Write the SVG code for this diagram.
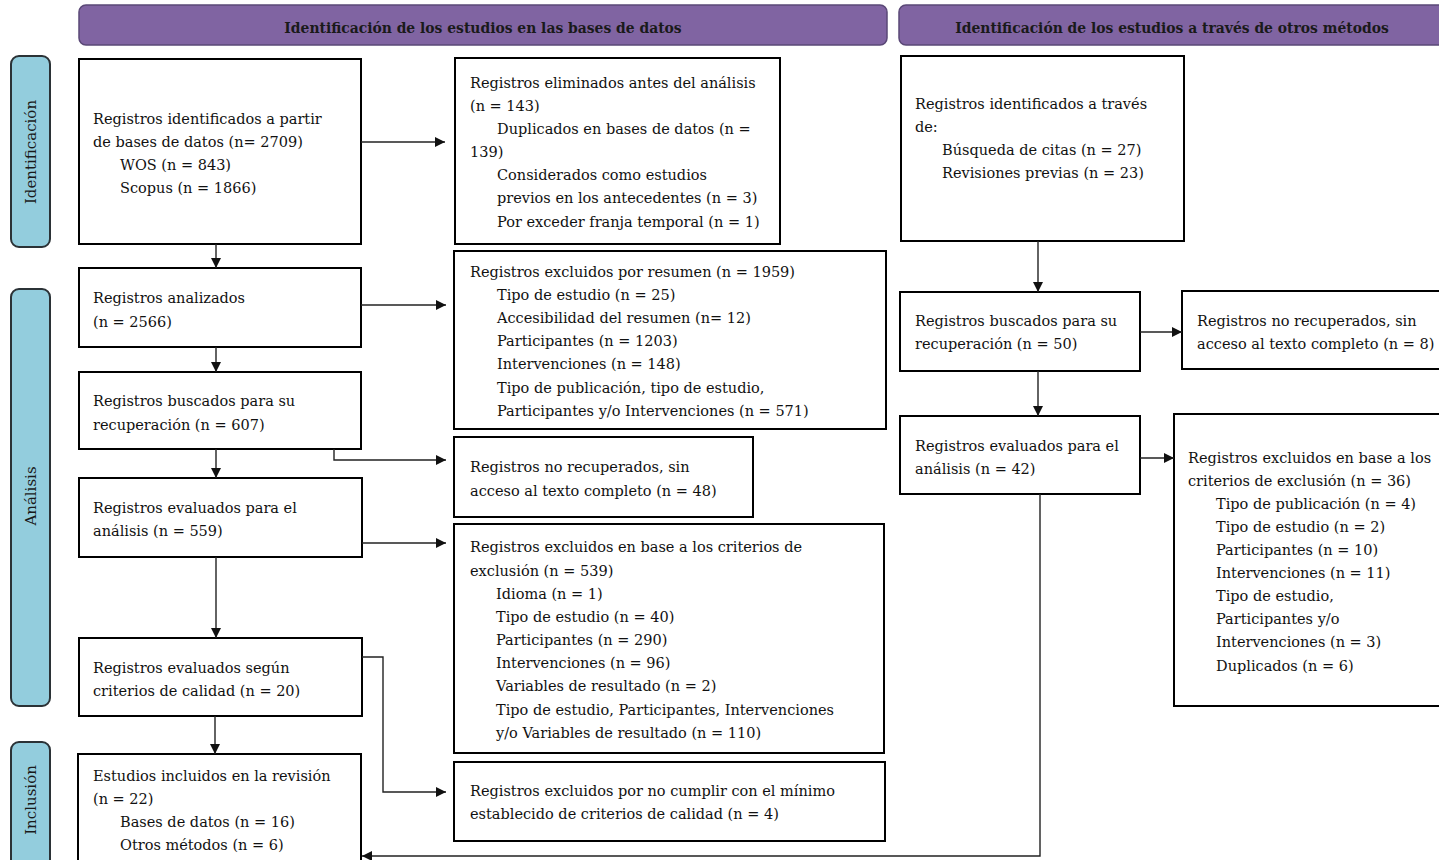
<svg xmlns="http://www.w3.org/2000/svg" width="1439" height="860" viewBox="0 0 1439 860">
<defs>
<marker id="ah" viewBox="0 0 10 10" refX="10" refY="5" markerWidth="11" markerHeight="10" markerUnits="userSpaceOnUse" orient="auto">
<path d="M0,0 L10,5 L0,10 z" fill="#111"/>
</marker>
<style>
.hdr{fill:#8064a2;stroke:#5a4877;stroke-width:1.5}
.side{fill:#93cddd;stroke:#2b3236;stroke-width:2}
.box{fill:#fff;stroke:#000;stroke-width:2}
.t{font-family:"DejaVu Serif","Liberation Serif",serif;font-size:14.5px;fill:#111}
.ht{font-family:"DejaVu Serif","Liberation Serif",serif;font-size:13.9px;font-weight:bold;fill:#1a1a1a;text-anchor:middle}
.st{font-family:"DejaVu Serif","Liberation Serif",serif;font-size:15px;fill:#1a1a1a;text-anchor:middle}
.c{fill:none;stroke:#222;stroke-width:1.4}
</style>
</defs>
<rect width="1439" height="860" fill="#fff"/>

<g id="header-left"><rect class="hdr" x="79" y="5" width="808" height="40" rx="7"/><text class="ht" x="483" y="33">Identificación de los estudios en las bases de datos</text></g>
<g id="header-right"><rect class="hdr" x="899" y="5" width="548" height="40" rx="7"/><text class="ht" x="1172" y="33">Identificación de los estudios a través de otros métodos</text></g>

<g id="side-identificacion"><rect class="side" x="11" y="56" width="39" height="191" rx="8"/><text class="st" transform="translate(36,152) rotate(-90)">Identificación</text></g>
<g id="side-analisis"><rect class="side" x="11" y="289" width="39" height="417" rx="8"/><text class="st" transform="translate(36,496) rotate(-90)">Análisis</text></g>
<g id="side-inclusion"><rect class="side" x="11" y="742" width="39" height="130" rx="8"/><text class="st" transform="translate(36,800) rotate(-90)">Inclusión</text></g>

<g id="n1"><rect class="box" x="79" y="59" width="282" height="185"/>
<text class="t" x="93" y="124">Registros identificados a partir</text>
<text class="t" x="93" y="147">de bases de datos (n= 2709)</text>
<text class="t" x="120" y="170">WOS (n = 843)</text>
<text class="t" x="120" y="193">Scopus (n = 1866)</text></g>

<g id="n2"><rect class="box" x="79" y="268" width="282" height="79"/>
<text class="t" x="93" y="303">Registros analizados</text>
<text class="t" x="93" y="327">(n = 2566)</text></g>

<g id="n3"><rect class="box" x="79" y="372" width="282" height="77"/>
<text class="t" x="93" y="406">Registros buscados para su</text>
<text class="t" x="93" y="430">recuperación (n = 607)</text></g>

<g id="n4"><rect class="box" x="79" y="478" width="283" height="79"/>
<text class="t" x="93" y="513">Registros evaluados para el</text>
<text class="t" x="93" y="536">análisis (n = 559)</text></g>

<g id="n5"><rect class="box" x="79" y="638" width="283" height="78"/>
<text class="t" x="93" y="673">Registros evaluados según</text>
<text class="t" x="93" y="696">criterios de calidad (n = 20)</text></g>

<g id="n6"><rect class="box" x="78" y="754" width="283" height="120"/>
<text class="t" x="93" y="781">Estudios incluidos en la revisión</text>
<text class="t" x="93" y="804">(n = 22)</text>
<text class="t" x="120" y="827">Bases de datos (n = 16)</text>
<text class="t" x="120" y="850">Otros métodos (n = 6)</text></g>

<g id="nA"><rect class="box" x="455" y="58" width="325" height="186"/>
<text class="t" x="470" y="88">Registros eliminados antes del análisis</text>
<text class="t" x="470" y="111">(n = 143)</text>
<text class="t" x="497" y="134">Duplicados en bases de datos (n =</text>
<text class="t" x="470" y="157">139)</text>
<text class="t" x="497" y="180">Considerados como estudios</text>
<text class="t" x="497" y="203">previos en los antecedentes (n = 3)</text>
<text class="t" x="497" y="227">Por exceder franja temporal (n = 1)</text></g>

<g id="nB"><rect class="box" x="454" y="251" width="432" height="178"/>
<text class="t" x="470" y="277">Registros excluidos por resumen (n = 1959)</text>
<text class="t" x="497" y="300">Tipo de estudio (n = 25)</text>
<text class="t" x="497" y="323">Accesibilidad del resumen (n= 12)</text>
<text class="t" x="497" y="346">Participantes (n = 1203)</text>
<text class="t" x="497" y="369">Intervenciones (n = 148)</text>
<text class="t" x="497" y="393">Tipo de publicación, tipo de estudio,</text>
<text class="t" x="497" y="416">Participantes y/o Intervenciones (n = 571)</text></g>

<g id="nC"><rect class="box" x="454" y="437" width="299" height="80"/>
<text class="t" x="470" y="472">Registros no recuperados, sin</text>
<text class="t" x="470" y="496">acceso al texto completo (n = 48)</text></g>

<g id="nD"><rect class="box" x="454" y="524" width="430" height="229"/>
<text class="t" x="470" y="552">Registros excluidos en base a los criterios de</text>
<text class="t" x="470" y="576">exclusión (n = 539)</text>
<text class="t" x="496" y="599">Idioma (n = 1)</text>
<text class="t" x="496" y="622">Tipo de estudio (n = 40)</text>
<text class="t" x="496" y="645">Participantes (n = 290)</text>
<text class="t" x="496" y="668">Intervenciones (n = 96)</text>
<text class="t" x="496" y="691">Variables de resultado (n = 2)</text>
<text class="t" x="496" y="715">Tipo de estudio, Participantes, Intervenciones</text>
<text class="t" x="496" y="738">y/o Variables de resultado (n = 110)</text></g>

<g id="nE"><rect class="box" x="454" y="762" width="431" height="79"/>
<text class="t" x="470" y="796">Registros excluidos por no cumplir con el mínimo</text>
<text class="t" x="470" y="819">establecido de criterios de calidad (n = 4)</text></g>

<g id="nR1"><rect class="box" x="901" y="56" width="283" height="185"/>
<text class="t" x="915" y="109">Registros identificados a través</text>
<text class="t" x="915" y="132">de:</text>
<text class="t" x="942" y="155">Búsqueda de citas (n = 27)</text>
<text class="t" x="942" y="178">Revisiones previas (n = 23)</text></g>

<g id="nR2"><rect class="box" x="900" y="292" width="240" height="79"/>
<text class="t" x="915" y="326">Registros buscados para su</text>
<text class="t" x="915" y="349">recuperación (n = 50)</text></g>

<g id="nR3"><rect class="box" x="1182" y="291" width="265" height="78"/>
<text class="t" x="1197" y="326">Registros no recuperados, sin</text>
<text class="t" x="1197" y="349">acceso al texto completo (n = 8)</text></g>

<g id="nR4"><rect class="box" x="900" y="416" width="240" height="78"/>
<text class="t" x="915" y="451">Registros evaluados para el</text>
<text class="t" x="915" y="474">análisis (n = 42)</text></g>

<g id="nR5"><rect class="box" x="1174" y="414" width="273" height="292"/>
<text class="t" x="1188" y="463">Registros excluidos en base a los</text>
<text class="t" x="1188" y="486">criterios de exclusión (n = 36)</text>
<text class="t" x="1216" y="509">Tipo de publicación (n = 4)</text>
<text class="t" x="1216" y="532">Tipo de estudio (n = 2)</text>
<text class="t" x="1216" y="555">Participantes (n = 10)</text>
<text class="t" x="1216" y="578">Intervenciones (n = 11)</text>
<text class="t" x="1216" y="601">Tipo de estudio,</text>
<text class="t" x="1216" y="624">Participantes y/o</text>
<text class="t" x="1216" y="647">Intervenciones (n = 3)</text>
<text class="t" x="1216" y="671">Duplicados (n = 6)</text></g>

<g id="connectors">
<path class="c" d="M216,244 V268" marker-end="url(#ah)"/>
<path class="c" d="M361,142 H445" marker-end="url(#ah)"/>
<path class="c" d="M361,305 H446" marker-end="url(#ah)"/>
<path class="c" d="M216,347 V372" marker-end="url(#ah)"/>
<path class="c" d="M334,449 V460 H446" marker-end="url(#ah)"/>
<path class="c" d="M216,449 V478" marker-end="url(#ah)"/>
<path class="c" d="M362,543 H446" marker-end="url(#ah)"/>
<path class="c" d="M216,557 V638" marker-end="url(#ah)"/>
<path class="c" d="M362,657 H383 V792 H446" marker-end="url(#ah)"/>
<path class="c" d="M215,716 V754" marker-end="url(#ah)"/>
<path class="c" d="M1038,241 V292" marker-end="url(#ah)"/>
<path class="c" d="M1140,332 H1182" marker-end="url(#ah)"/>
<path class="c" d="M1038,371 V416" marker-end="url(#ah)"/>
<path class="c" d="M1140,458 H1174" marker-end="url(#ah)"/>
<path class="c" d="M1040,494 V856 H362" marker-end="url(#ah)"/>
</g>
</svg>
